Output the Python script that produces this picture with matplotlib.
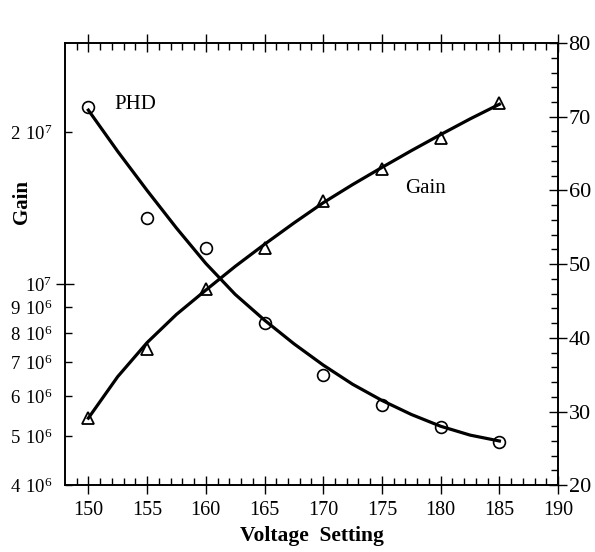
import matplotlib
matplotlib.use("Agg")
import matplotlib.pyplot as plt
from matplotlib.ticker import FixedLocator, NullFormatter

plt.rcParams['font.family'] = ['Liberation Serif', 'DejaVu Serif']
plt.rcParams['mathtext.fontset'] = 'custom'
plt.rcParams['mathtext.rm'] = 'Liberation Serif'

# measured points
voltage = [150, 155, 160, 165, 170, 175, 180, 185]
gain = [5.43e6, 7.44e6, 9.8e6, 1.18e7, 1.46e7, 1.69e7, 1.95e7, 2.28e7]
phd = [71.3, 56.2, 52.2, 42.0, 34.9, 30.9, 27.9, 25.8]

# fitted curves
curve_v = [150, 152.5, 155, 157.5, 160, 162.5, 165, 167.5, 170,
           172.5, 175, 177.5, 180, 182.5, 185]
gain_curve = [5.43e6, 6.56e6, 7.66e6, 8.71e6, 9.73e6, 1.084e7, 1.199e7, 1.321e7,
              1.449e7, 1.574e7, 1.702e7, 1.837e7, 1.977e7, 2.123e7, 2.27e7]
phd_curve = [70.9, 65.3, 60.0, 54.9, 50.1, 45.9, 42.4, 39.2, 36.3,
             33.7, 31.5, 29.6, 28.0, 26.8, 26.0]

gain_ticks = [4e6, 5e6, 6e6, 7e6, 8e6, 9e6, 2e7]
gain_labels = [r'$\mathregular{4\ 10^6}$', r'$\mathregular{5\ 10^6}$',
               r'$\mathregular{6\ 10^6}$', r'$\mathregular{7\ 10^6}$',
               r'$\mathregular{8\ 10^6}$', r'$\mathregular{9\ 10^6}$',
               r'$\mathregular{2\ 10^7}$']

fig = plt.figure(figsize=(5.95, 5.52), dpi=100)
ax = fig.add_axes([0.109, 0.121, 0.829, 0.801])
ax2 = ax.twinx()

# Gain on the left (log) axis
ax.plot(voltage, gain, linestyle='None', marker='^', markersize=8.5,
        markerfacecolor='white', markeredgecolor='black', markeredgewidth=1.3, zorder=2)
ax.plot(curve_v, gain_curve, color='black', linewidth=2.3, zorder=3)

# PHD on the right (linear) axis
ax2.plot(voltage, phd, linestyle='None', marker='o', markersize=8.5,
         markerfacecolor='white', markeredgecolor='black', markeredgewidth=1.2, zorder=2)
ax2.plot(curve_v, phd_curve, color='black', linewidth=2.3, zorder=3)

ax.set_xlim(148, 190)
ax.set_yscale('log')
ax.set_ylim(4e6, 3e7)
ax2.set_ylim(20, 80)

# x ticks
ax.set_xticks(range(150, 191, 5))
ax.set_xticklabels([str(v) for v in range(150, 191, 5)], fontsize=14.5)
ax.xaxis.set_minor_locator(FixedLocator(range(149, 191)))
ax.tick_params(axis='x', which='major', direction='inout', length=13, width=1,
               top=True, pad=5)
ax.tick_params(axis='x', which='minor', direction='in', length=5, width=1, top=True)

# left y ticks
ax.yaxis.set_major_locator(FixedLocator([1e7]))
ax.set_yticklabels([r'$\mathregular{10^7}$'], fontsize=13.5)
ax.yaxis.set_minor_locator(FixedLocator(gain_ticks))
ax.yaxis.set_minor_formatter(NullFormatter())
ax.set_yticks(gain_ticks, labels=gain_labels, minor=True, fontsize=13.5)
ax.tick_params(axis='y', which='major', direction='inout', length=13, width=1, pad=3)
ax.tick_params(axis='y', which='minor', direction='in', length=5, width=1, pad=9)

# right y ticks
ax2.set_yticks(range(20, 81, 10))
ax2.set_yticklabels([str(v) for v in range(20, 81, 10)], fontsize=16)
ax2.yaxis.set_minor_locator(FixedLocator(range(22, 80, 2)))
ax2.tick_params(axis='y', which='major', direction='inout', length=13, width=1, pad=1)
ax2.tick_params(axis='y', which='minor', direction='in', length=5, width=1)

for a in (ax, ax2):
    for s in a.spines.values():
        s.set_linewidth(1.2)

ax.set_xlabel('Voltage  Setting', fontsize=15.5, fontweight='bold', labelpad=4)
ax.set_ylabel('Gain', fontsize=15, fontweight='bold')
ax.yaxis.set_label_coords(-0.066, 0.64)

ax2.text(152.2, 71.6, 'PHD', fontsize=15, va='center', ha='left')
ax2.text(177.0, 60.3, 'Gain', fontsize=15, va='center', ha='left')

fig.savefig('out.png', dpi=100)
